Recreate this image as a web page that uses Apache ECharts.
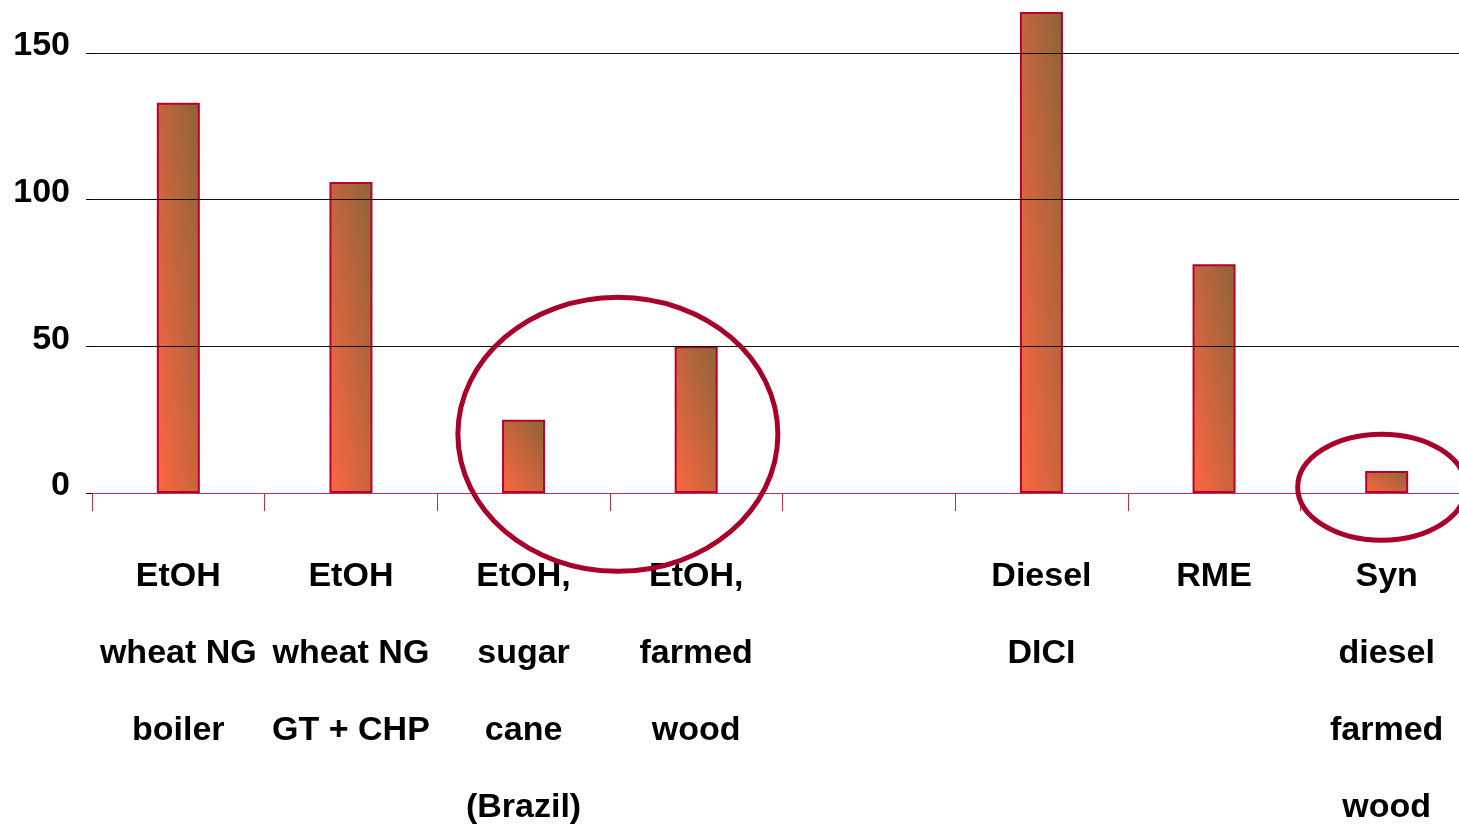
<!DOCTYPE html>
<html>
<head>
<meta charset="utf-8">
<script src="https://cdn.jsdelivr.net/npm/echarts@6/dist/echarts.min.js"></script>
<style>
  html, body { margin: 0; padding: 0; background: #fff; }
  #chart { width: 1459px; height: 826px; }
</style>
</head>
<body>
<div id="chart"></div>
<script>
// categories (the 5th slot is empty in the original)
var categories = [
    'EtOH\nwheat NG\nboiler',
    'EtOH\nwheat NG\nGT + CHP',
    'EtOH,\nsugar\ncane\n(Brazil)',
    'EtOH,\nfarmed\nwood',
    '',
    'Diesel\nDICI',
    'RME',
    'Syn\ndiesel\nfarmed\nwood'
];

// bar heights
var values = [133, 106, 25, 50, null, 164, 78, 7.5];

// reference levels drawn as lines over the bars
var gridLevels = [50, 100, 150];

var RED = '#a8002a';
var BAR_W = 43;
var PX_PER_UNIT = 440 / 150;

// gradient that is "scaled with the shape": corner to corner in box space
function barFill(v) {
    var h = Math.max(v * PX_PER_UNIT, 1), w = BAR_W;
    var s = h * h + w * w;
    return new echarts.graphic.LinearGradient(0, 1, 2 * h * h / s, 1 - 2 * w * w / s, [
        { offset: 0, color: '#ff6640' },
        { offset: 1, color: '#8c643a' }
    ]);
}

var barData = values.map(function (v) {
    if (v == null) return null;
    return { value: v, itemStyle: { color: barFill(v) } };
});

var myChart = echarts.init(document.getElementById('chart'));

var option = {
    animation: false,
    grid: {
        left: 92,
        right: -14,
        top: 9,
        bottom: 333,
        containLabel: false,
        outerBoundsMode: 'none'
    },
    xAxis: {
        type: 'category',
        data: categories,
        axisLine: { show: true, lineStyle: { color: '#c0304f', width: 1 } },
        axisTick: {
            show: true,
            inside: false,
            length: 18,
            lineStyle: { color: '#c0304f', width: 1 }
        },
        axisLabel: {
            interval: 0,
            margin: 45,
            color: '#000',
            fontFamily: 'Liberation Sans, Arial, sans-serif',
            fontWeight: 'bold',
            fontSize: 34,
            lineHeight: 77
        }
    },
    yAxis: {
        type: 'value',
        min: 0,
        max: 165,
        interval: 50,
        axisLine: { show: false },
        axisTick: { show: true, length: 6, lineStyle: { color: '#000', width: 1 } },
        splitLine: { show: false },
        axisLabel: {
            margin: 22,
            color: '#000',
            fontFamily: 'Liberation Sans, Arial, sans-serif',
            fontWeight: 'bold',
            fontSize: 34,
            lineHeight: 14,
            verticalAlign: 'bottom',
            showMaxLabel: false
        }
    },
    series: [{
        type: 'bar',
        data: barData,
        barWidth: BAR_W,
        itemStyle: {
            borderColor: '#b8002c',
            borderWidth: 2
        },
        markLine: {
            silent: true,
            symbol: 'none',
            label: { show: false },
            lineStyle: { color: '#111', width: 1, type: 'solid' },
            data: gridLevels.map(function (v) { return { yAxis: v }; })
        }
    }]
};

myChart.setOption(option);

// the two hand drawn ellipses, placed from the chart's own scales
var a = myChart.convertToPixel({ gridIndex: 0 }, [2, 20]);
var b = myChart.convertToPixel({ gridIndex: 0 }, [3, 20]);
var c = myChart.convertToPixel({ gridIndex: 0 }, [7, 2]);

myChart.setOption({
    graphic: [{
        type: 'ellipse',
        shape: { cx: (a[0] + b[0]) / 2 + 8, cy: a[1], rx: 160, ry: 137 },
        style: { fill: 'none', stroke: RED, lineWidth: 5 },
        z: 100
    }, {
        type: 'ellipse',
        shape: { cx: c[0] - 5, cy: c[1], rx: 84, ry: 53 },
        style: { fill: 'none', stroke: RED, lineWidth: 5 },
        z: 100
    }]
});
</script>
</body>
</html>
